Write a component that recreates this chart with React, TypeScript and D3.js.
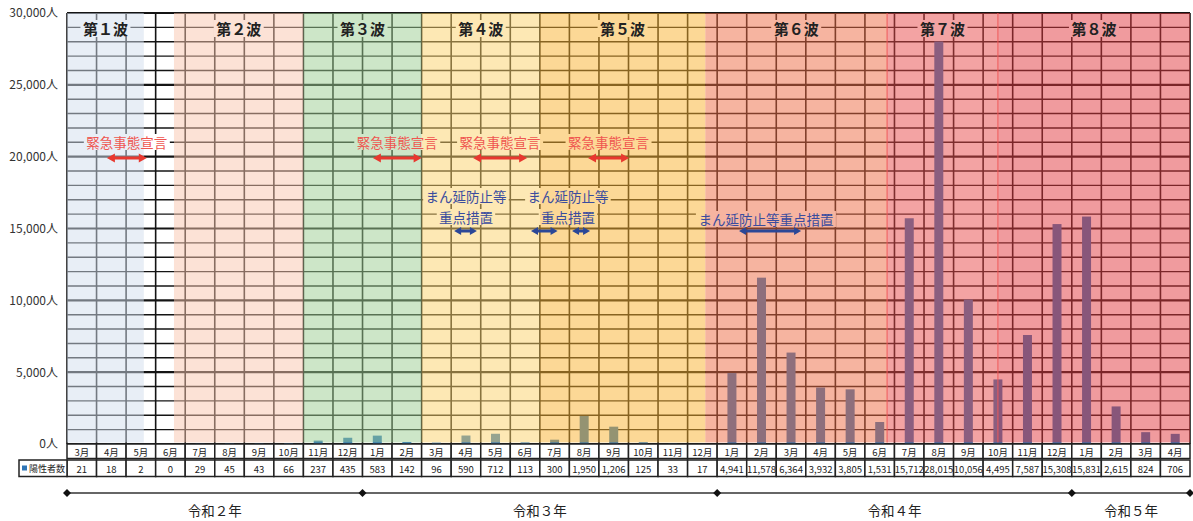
import React, { useEffect, useRef } from 'react'
import * as d3 from 'd3'

// monthly positive cases (Mar 2020 - Apr 2023)
const months = ['3月','4月','5月','6月','7月','8月','9月','10月','11月','12月',
  '1月','2月','3月','4月','5月','6月','7月','8月','9月','10月','11月','12月',
  '1月','2月','3月','4月','5月','6月','7月','8月','9月','10月','11月','12月',
  '1月','2月','3月','4月']
const positives = [21,18,2,0,29,45,43,66,237,435,
  583,142,96,590,712,113,300,1950,1206,125,33,17,
  4941,11578,6364,3932,3805,1531,15712,28015,10056,4495,7587,15308,
  15831,2615,824,706]

const yTicks = [0,5000,10000,15000,20000,25000,30000]

const yearLabels = ['令和２年','令和３年','令和４年','令和５年']
const yearStarts = [0,10,22,34]

// waves, in month positions (0 = start of Mar 2020)
const waveLabels = ['第１波','第２波','第３波','第４波','第５波','第６波','第７波','第８波']
const waveStart = [0,3.62,8,12,16,21.6,27.75,31.5]
const waveEnd = [2.6,8,12,16,21.6,27.75,31.5,38]
const waveColors = ['#D1DDED','#F9C5AD','#9BCD91','#FBD169','#F9B12D','#ED6941','#E74747','#E1373D']

// 緊急事態宣言
const emgStart = [1.35,10.35,13.74,17.63]
const emgEnd = [2.7,12.0,15.57,19.02]
// まん延防止等重点措置
const mbStart = [13.1,15.7,17.09,22.74]
const mbEnd = [13.87,16.6,17.7,24.84]
const mbLabelPos = [13.5,16.95,23.65]
const mbLabelLines = [['まん延防止等','重点措置'],['まん延防止等','重点措置'],['まん延防止等重点措置']]

const W = 1193
const H = 521
const FONT = "'Noto Sans CJK JP', 'Noto Sans', sans-serif"

const arrowPath = (x1: number, x2: number, cy: number, head = 8, half = 4.5, t = 1.6) =>
  `M${x1},${cy} L${x1 + head},${cy - half} L${x1 + head},${cy - t} L${x2 - head},${cy - t} ` +
  `L${x2 - head},${cy - half} L${x2},${cy} L${x2 - head},${cy + half} L${x2 - head},${cy + t} ` +
  `L${x1 + head},${cy + t} L${x1 + head},${cy + half} Z`

const App = () => {
  const yAxisRef = useRef<SVGGElement>(null)

  const x = d3.scaleLinear().domain([0, months.length]).range([67, 1190])
  const xb = d3.scaleBand<number>().domain(d3.range(months.length)).range([67, 1190])
  const y = d3.scaleLinear().domain([0, 30000]).range([444, 13])
  const colW = xb.bandwidth()
  const barW = 9

  useEffect(() => {
    if (yAxisRef.current) {
      const yAxis = d3.axisLeft(y)
        .tickValues(yTicks)
        .tickSize(0)
        .tickPadding(0)
        .tickFormat((d) => d3.format(',')(d as number) + '人')
      const g = d3.select(yAxisRef.current).call(yAxis)
      g.select('.domain').remove()
      g.selectAll('text')
        .attr('font-family', FONT)
        .attr('font-size', 12)
        .attr('fill', '#333')
    }
  }, [])

  const gridY = d3.range(0, 30001, 1000)
  const gridX = d3.range(0, months.length + 1)

  return (
    <svg width={W} height={H} style={{ position: 'absolute', left: 0, top: 0, background: '#fff' }} fontFamily={FONT}>
      {/* grid */}
      {gridY.map((v) => (
        <line key={'h' + v} x1={x(0)} x2={x(months.length)} y1={y(v)} y2={y(v)}
          stroke="#141414" strokeWidth={v % 5000 === 0 ? 2.2 : 1.4} />
      ))}
      {gridX.map((i) => (
        <line key={'v' + i} x1={x(i)} x2={x(i)} y1={y(30000)} y2={y(0)} stroke="#141414" strokeWidth={1.6} />
      ))}

      {/* bars */}
      {positives.map((v, i) => (
        <rect key={'b' + i} x={(xb(i) as number) + colW / 2 - barW / 2} width={barW}
          y={y(v)} height={y(0) - y(v)} fill="#2E75B6" />
      ))}

      {/* label backgrounds (under the wave tint) */}
      {waveLabels.map((l, i) => (
        <rect key={'wb' + i} x={x((waveStart[i] + waveEnd[i]) / 2) - 25} y={20} width={50} height={17} fill="#fff" />
      ))}
      {emgStart.map((s, i) => (
        <rect key={'eb' + i} x={x((s + emgEnd[i]) / 2) - 43} y={134} width={86} height={16} fill="#fff" />
      ))}
      {mbLabelLines.map((lines, i) =>
        lines.map((t, j) => {
          const cy = lines.length === 1 ? 219 : 196 + j * 21
          const w = t.length * 13.6 + 4
          return <rect key={'mbb' + i + j} x={x(mbLabelPos[i]) - w / 2} y={cy - 8} width={w} height={16} fill="#fff" />
        })
      )}

      {/* wave tint */}
      {waveLabels.map((l, i) => (
        <rect key={'w' + i} x={x(waveStart[i])} width={x(waveEnd[i]) - x(waveStart[i])}
          y={y(30000)} height={y(0) - y(30000) - 1.5} fill={waveColors[i]} opacity={0.5} />
      ))}
      <line x1={x(waveStart[6])} x2={x(waveStart[6])} y1={y(30000)} y2={y(0) - 1.5} stroke="#F05858" strokeWidth={1} />
      <line x1={x(waveEnd[6])} x2={x(waveEnd[6])} y1={y(30000)} y2={y(0) - 1.5} stroke="#F05858" strokeWidth={1} />

      {/* wave labels */}
      {waveLabels.map((l, i) => (
        <text key={'wl' + i} x={x((waveStart[i] + waveEnd[i]) / 2)} y={28} textAnchor="middle"
          dominantBaseline="central" fontSize={15} fontWeight="bold" fill="#222">{l}</text>
      ))}

      {/* 緊急事態宣言 */}
      {emgStart.map((s, i) => (
        <g key={'e' + i}>
          <text x={x((s + emgEnd[i]) / 2)} y={142} textAnchor="middle" dominantBaseline="central"
            fontSize={13.5} fill="#EF5650">緊急事態宣言</text>
          <path d={arrowPath(x(s), x(emgEnd[i]), 158)} fill="#E8382F" />
        </g>
      ))}

      {/* まん延防止等重点措置 */}
      {mbLabelLines.map((lines, i) =>
        lines.map((t, j) => (
          <text key={'mb' + i + j} x={x(mbLabelPos[i])} y={lines.length === 1 ? 219 : 196 + j * 21}
            textAnchor="middle" dominantBaseline="central" fontSize={13.5} fill="#3A4C9E">{t}</text>
        ))
      )}
      {mbStart.map((s, i) => (
        <path key={'ma' + i} d={arrowPath(x(s), x(mbEnd[i]), 231, 7, 4, 1.6)} fill="#2B4797" />
      ))}

      {/* y axis */}
      <g ref={yAxisRef} transform="translate(58,0)" />

      {/* table */}
      {months.map((m, i) => (
        <g key={'t' + i}>
          <rect x={x(i)} y={444} width={colW} height={14.5} fill="#fff" stroke="#222" strokeWidth={1.5} />
          <text x={x(i) + colW / 2} y={451.5} textAnchor="middle" dominantBaseline="central" fontSize={9.5} fill="#222">{m}</text>
          <rect x={x(i)} y={460} width={colW} height={16.5} fill="#fff" stroke="#222" strokeWidth={1.5} />
          <text x={x(i) + colW / 2} y={468.5} textAnchor="middle" dominantBaseline="central" fontSize={9.5} fill="#222">
            {d3.format(',')(positives[i])}
          </text>
        </g>
      ))}
      <rect x={19} y={460} width={x(0) - 19} height={16.5} fill="#fff" stroke="#222" strokeWidth={1.5} />
      <rect x={22} y={465.5} width={5} height={5} fill="#2E75B6" />
      <text x={29} y={468.5} dominantBaseline="central" fontSize={9} fill="#222">陽性者数</text>

      {/* year axis */}
      <line x1={x(0)} x2={x(months.length)} y1={493} y2={493} stroke="#333" strokeWidth={1.5} />
      {[...yearStarts, months.length].map((s, i) => (
        <path key={'d' + i} d={`M${x(s)},${489} L${x(s) + 4},${493} L${x(s)},${497} L${x(s) - 4},${493} Z`} fill="#111" />
      ))}
      {yearLabels.map((l, i) => {
        const e = i < yearStarts.length - 1 ? yearStarts[i + 1] : months.length
        return (
          <text key={'y' + i} x={x((yearStarts[i] + e) / 2)} y={510} textAnchor="middle" dominantBaseline="central"
            fontSize={13.5} fill="#222">{l}</text>
        )
      })}
    </svg>
  )
}

export default App
